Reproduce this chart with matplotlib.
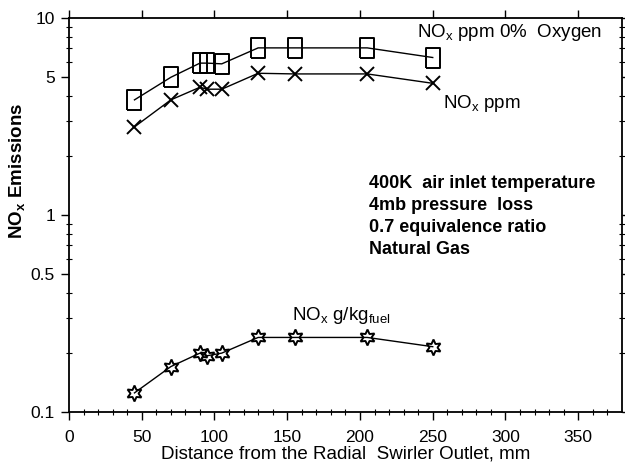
import matplotlib
matplotlib.use("Agg")
import matplotlib.pyplot as plt
from matplotlib.ticker import FixedLocator, NullFormatter

plt.rcParams['font.family'] = ['Liberation Sans', 'DejaVu Sans']
plt.rcParams['mathtext.default'] = 'regular'

distance_mm = [45, 70, 90, 95, 105, 130, 155, 205, 250]
nox_ppm_0pct_o2 = [3.84, 5.0, 5.9, 5.9, 5.85, 7.05, 7.05, 7.05, 6.3]
nox_ppm = [2.8, 3.84, 4.45, 4.35, 4.35, 5.24, 5.2, 5.2, 4.66]
nox_g_per_kg = [0.125, 0.170, 0.199, 0.193, 0.199, 0.239, 0.239, 0.239, 0.2145]

y_major = [0.1, 0.5, 1, 5, 10]
y_major_labels = ['0.1', '0.5', '1', '5', '10']
y_minor = [0.2, 0.3, 0.4, 0.6, 0.7, 0.8, 0.9, 2, 3, 4, 6, 7, 8, 9]
x_major = [0, 50, 100, 150, 200, 250, 300, 350]
x_minor = list(range(10, 380, 10))

fig = plt.figure(figsize=(6.25, 4.67), dpi=100)
ax = fig.add_axes([0.1104, 0.1178, 0.8846, 0.8437])

rect = [(-0.65, -1), (0.65, -1), (0.65, 1), (-0.65, 1), (-0.65, -1)]
ax.plot(distance_mm, nox_ppm_0pct_o2, color='black', lw=1.0,
        marker=rect, markersize=14.5, markerfacecolor='none',
        markeredgecolor='black', markeredgewidth=1.4)
ax.plot(distance_mm, nox_ppm, color='black', lw=1.0,
        marker='x', markersize=9.5, markeredgewidth=1.4)
ax.plot(distance_mm, nox_g_per_kg, color='black', lw=1.0,
        marker=(6, 1, 0), markersize=11.5, markerfacecolor='none',
        markeredgecolor='black', markeredgewidth=1.4)

ax.set_yscale('log')
ax.set_xlim(0, 380)
ax.set_ylim(0.1, 10)

ax.yaxis.set_major_locator(FixedLocator(y_major))
ax.set_yticklabels(y_major_labels)
ax.yaxis.set_minor_locator(FixedLocator(y_minor))
ax.yaxis.set_minor_formatter(NullFormatter())
ax.xaxis.set_major_locator(FixedLocator(x_major))
ax.xaxis.set_minor_locator(FixedLocator(x_minor))

ax.tick_params(which='major', direction='out', length=6, width=1.0,
               top=True, right=True, labelsize=12.5)
ax.tick_params(axis='x', which='major', pad=7)
ax.tick_params(axis='y', which='major', pad=4)
ax.tick_params(which='minor', direction='inout', length=4, width=0.8,
               top=False, right=True)
for s in ax.spines.values():
    s.set_linewidth(1.3)

ax.set_xlabel('Distance from the Radial  Swirler Outlet, mm', fontsize=13.5, labelpad=0)
fig.text(17 / 625, 1 - 171 / 467, r'NO$_{x}$ Emissions', rotation=90,
         fontsize=13.5, fontweight='bold', ha='center', va='center')

ax.text(239, 8.4, r'NO$_{x}$ ppm 0%  Oxygen', fontsize=13.5, va='center', ha='left')
ax.text(257, 3.7, r'NO$_{x}$ ppm', fontsize=13.5, va='center', ha='left')
ax.text(153, 0.31, r'NO$_{x}$ g/kg$_{fuel}$', fontsize=13.5, va='center', ha='left')

notes = ['400K  air inlet temperature', '4mb pressure  loss',
         '0.7 equivalence ratio', 'Natural Gas']
for i, line in enumerate(notes):
    ax.text(0.5425, 0.581 - i * 0.0558, line, transform=ax.transAxes,
            fontsize=13, fontweight='bold', va='center', ha='left')

fig.savefig('out.png', dpi=100)
